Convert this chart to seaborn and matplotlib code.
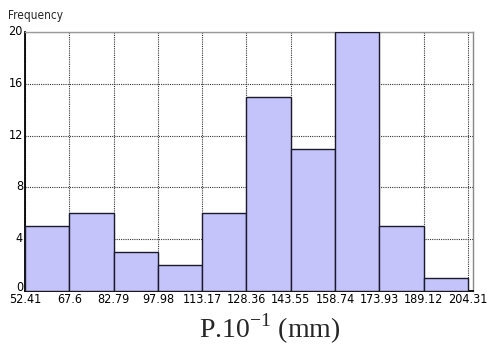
import matplotlib
matplotlib.use("Agg")
import matplotlib.pyplot as plt
import matplotlib.transforms as mtransforms
import seaborn as sns

# Class boundaries and frequency per class
bin_edges = [52.41, 67.6, 82.79, 97.98, 113.17, 128.36, 143.55, 158.74, 173.93, 189.12, 204.31]
counts = [5, 6, 3, 2, 6, 15, 11, 20, 5, 1]
y_ticks = [0, 4, 8, 12, 16, 20]
x_tick_labels = ["52.41", "67.6", "82.79", "97.98", "113.17", "128.36",
                 "143.55", "158.74", "173.93", "189.12", "204.31"]

sns.set_style("white")
plt.rcParams["font.family"] = ["DejaVu Sans"]
plt.rcParams["font.stretch"] = "condensed"

fig = plt.figure(figsize=(4.9, 3.47), dpi=100)
ax = fig.add_axes([0.051, 0.161, 0.914, 0.747])

centers = [(a + b) / 2 for a, b in zip(bin_edges[:-1], bin_edges[1:])]
sns.histplot(x=centers, weights=counts, bins=bin_edges, ax=ax,
             color="#c4c4fb", alpha=1.0, edgecolor="#1a1a2a", linewidth=1.0,
             zorder=3)

ax.set_xlim(bin_edges[0], bin_edges[-1] + 1.7)
ax.set_ylim(0, 20)
ax.set_xticks(bin_edges)
ax.set_xticklabels(x_tick_labels)
ax.set_yticks(y_ticks)
ax.tick_params(axis="both", length=0, labelsize=9, pad=1.5, colors="black")

# nudge the count labels slightly upward; the zero label a bit more so it
# clears the class-boundary labels
for val, lbl in zip(y_ticks, ax.get_yticklabels()):
    dy = 0.05 if val == 0 else 0.02
    lift = mtransforms.ScaledTranslation(0, dy, fig.dpi_scale_trans)
    lbl.set_transform(lbl.get_transform() + lift)

ax.grid(True, color="#333333", linestyle=(0, (1, 1)), linewidth=0.8, zorder=0)
ax.set_axisbelow(True)

for side in ("left", "bottom"):
    ax.spines[side].set_color("black")
    ax.spines[side].set_linewidth(1.3)
ax.spines["top"].set_color("#999999")
ax.spines["top"].set_linewidth(1.0)
ax.spines["right"].set_color("#888888")
ax.spines["right"].set_linestyle((0, (1, 1)))
ax.spines["right"].set_linewidth(1.0)

ax.set_ylabel("")
ax.set_xlabel(r"P.10$^{\mathregular{-1}}$ (mm)", family="Liberation Serif",
              fontsize=20, stretch="normal", va="baseline", ha="center")
ax.xaxis.set_label_coords(0.547, -0.178)

fig.text(0.016, 0.955, "Frequency", fontsize=8.5, ha="left", va="center")

fig.savefig("out.png", dpi=100, facecolor="white")
